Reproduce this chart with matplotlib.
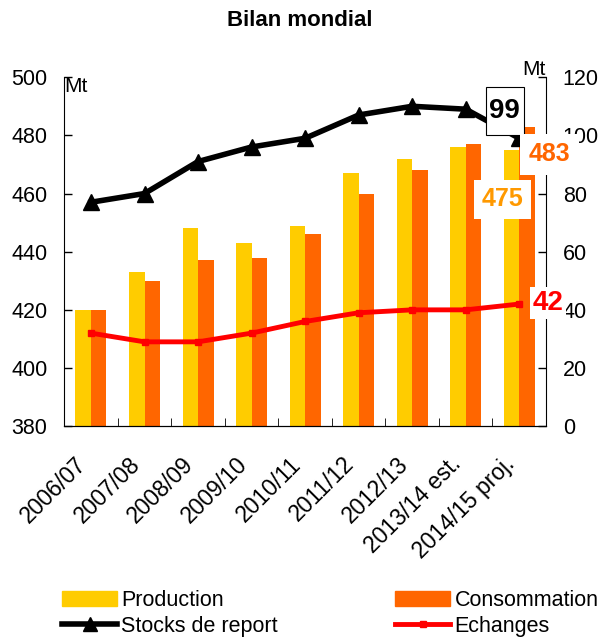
import numpy as np
import matplotlib
matplotlib.use("Agg")
import matplotlib.pyplot as plt
from matplotlib.lines import Line2D
from matplotlib.patches import Patch, Rectangle

plt.rcParams['font.family'] = ['Liberation Sans', 'DejaVu Sans']

campagnes = ["2006/07", "2007/08", "2008/09", "2009/10", "2010/11",
             "2011/12", "2012/13", "2013/14 est.", "2014/15 proj."]
production = [420, 433, 448, 443, 449, 467, 472, 476, 475]
consommation = [420, 430, 437, 438, 446, 460, 468, 477, 483]
stocks = [77, 80, 91, 96, 99, 107, 110, 109, 99]
echanges = [32, 29, 29, 32, 36, 39, 40, 40, 42]

YELLOW = "#FFCC00"
ORANGE = "#FF6600"
GOLD = "#FF9900"
RED = "#FF0000"

fig = plt.figure(figsize=(6.0, 6.38), dpi=100)
ax = fig.add_axes([0.107, 0.332, 0.803, 0.547])
ax2 = ax.twinx()

x = np.arange(len(campagnes))
w = 0.29
ax.bar(x - w / 2, production, width=w, color=YELLOW, zorder=2)
ax.bar(x + w / 2, consommation, width=w, color=ORANGE, zorder=2)
ax.set_ylim(380, 500)
ax.set_yticks(np.arange(380, 501, 20))
ax.set_xlim(-0.5, len(campagnes) - 0.5)

ax2.plot(x, stocks, color="black", lw=4, marker="^", ms=12, zorder=5)
ax2.plot(x, echanges, color=RED, lw=3.5, marker="s", ms=4.5, zorder=5)
ax2.set_ylim(0, 120)
ax2.set_yticks(np.arange(0, 121, 20))

for a in (ax, ax2):
    a.spines["top"].set_visible(False)
    a.tick_params(axis="y", direction="in", length=6, labelsize=15.5, width=1, pad=12)
ax.spines["right"].set_visible(False)
ax.tick_params(axis="y", left=True, right=False)
ax2.spines["left"].set_visible(False)

# category labels, ticks between groups
ax.set_xticks(x - 0.3)
ax.set_xticklabels(campagnes, rotation=45, ha="right", va="top", rotation_mode="anchor",
                   fontsize=16.5)
ax.tick_params(axis="x", length=0, pad=19)
ax.set_xticks(np.arange(0.5, len(campagnes) - 0.5, 1), minor=True)
ax.tick_params(axis="x", which="minor", direction="in", length=6)

ax.text(0.0, 1.0, "Mt", transform=ax.transAxes, fontsize=15, ha="left", va="top")
ax2.text(1.0, 0.995, "Mt", transform=ax2.transAxes, fontsize=15, ha="right", va="bottom")

fig.text(0.5, 0.968, "Bilan mondial", ha="center", va="center", fontsize=16, fontweight="bold")

# value labels for the last campaign (drawn on ax2 so they sit above the right spine)
last = len(campagnes) - 1
lx, ly = last - 0.27, stocks[-1] + 9.3
ax2.add_patch(Rectangle((lx - 0.355, ly - 8.2), 0.71, 16.4, fc="white", ec="black",
                        lw=0.8, zorder=6, clip_on=False))
ax2.text(lx, ly, f"{stocks[-1]}", fontsize=20, fontweight="bold",
         ha="center", va="center", zorder=7, clip_on=False)
ax2.text(last + 0.57, consommation[-1] - 9.5, f"{consommation[-1]}", transform=ax.transData,
         fontsize=18, fontweight="bold", color=ORANGE, ha="center", va="center",
         zorder=6, clip_on=False,
         bbox=dict(boxstyle="square,pad=0.35", fc="white", ec="none"))
ax2.text(last - 0.31, production[-1] - 17, f"{production[-1]}", transform=ax.transData,
         fontsize=18, fontweight="bold", color=GOLD, ha="center", va="center",
         zorder=6, clip_on=False,
         bbox=dict(boxstyle="square,pad=0.3", fc="white", ec="none"))
ax2.text(last + 0.54, echanges[-1] + 0.3, f"{echanges[-1]}", fontsize=20, fontweight="bold",
         color=RED, ha="center", va="center", zorder=6, clip_on=False,
         bbox=dict(boxstyle="square,pad=0.1", fc="white", ec="none"))

handles = [Patch(color=YELLOW, label="Production"),
           Line2D([], [], color="black", lw=4, marker="^", ms=10, label="Stocks de report"),
           Patch(color=ORANGE, label="Consommation"),
           Line2D([], [], color=RED, lw=3.5, marker="s", ms=4, label="Echanges")]
fig.legend(handles=handles, ncol=2, loc="lower left", bbox_to_anchor=(0.082, -0.018),
           frameon=False, fontsize=15.5, handlelength=2.55, handletextpad=0.2,
           columnspacing=5.45, labelspacing=0.22, borderaxespad=0.2)

fig.savefig("out.png", dpi=100)
